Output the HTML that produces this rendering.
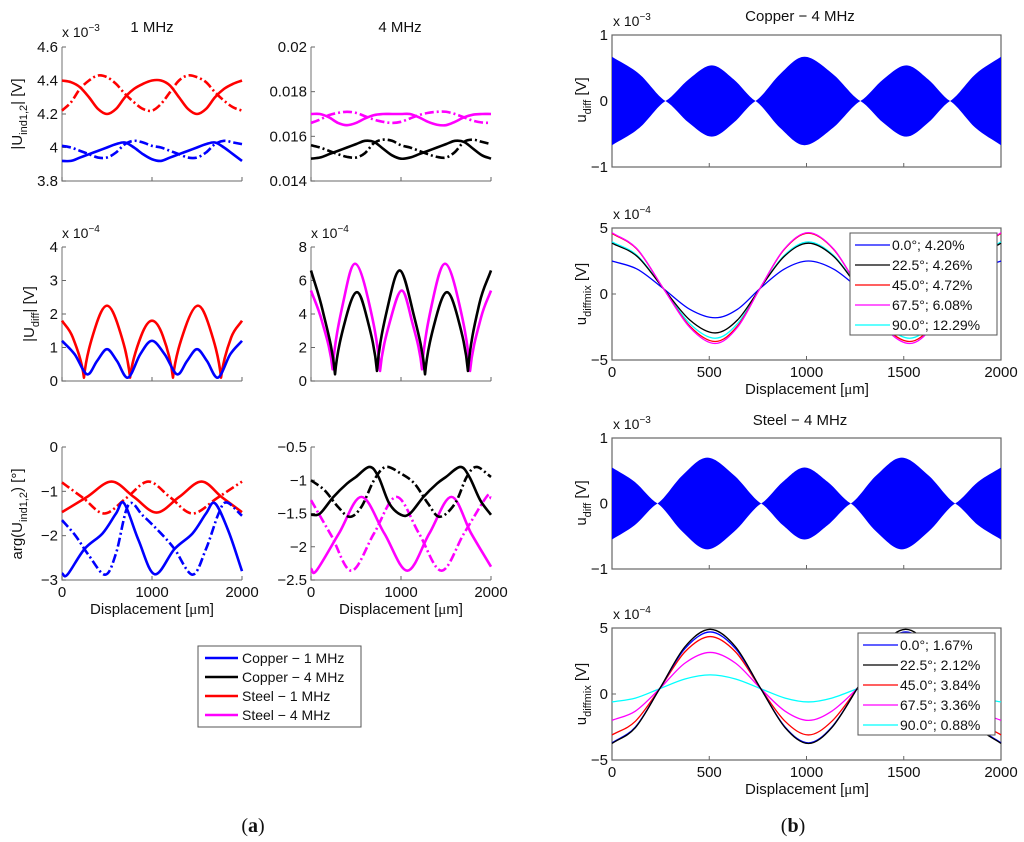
<!DOCTYPE html>
<html><head><meta charset="utf-8"><style>
body{margin:0;background:#fff;}
svg{display:block;font-family:"Liberation Sans",sans-serif;}
</style></head><body>
<svg id="fig" width="1024" height="842" viewBox="0 0 1024 842" xmlns="http://www.w3.org/2000/svg"></svg>
<script>
// ===== data (x in µm, values in axis units) =====
const gridX = [0,100,200,300,400,500,600,700,800,900,1000,1100,1200,1300,1400,1500,1600,1700,1800,1900,2000];
const a1RedSolid = [4.40,4.39,4.36,4.30,4.23,4.20,4.23,4.30,4.35,4.38,4.40,4.40,4.37,4.30,4.23,4.20,4.23,4.30,4.35,4.38,4.40];
const a1RedDash  = [4.22,4.27,4.35,4.40,4.43,4.42,4.38,4.32,4.27,4.23,4.22,4.26,4.33,4.40,4.43,4.42,4.39,4.33,4.28,4.24,4.22];
const a1BlueSolid= [3.92,3.92,3.94,3.96,3.98,4.00,4.02,4.03,4.00,3.96,3.93,3.92,3.94,3.96,3.98,4.00,4.02,4.03,4.00,3.96,3.92];
const a1BlueDash = [4.01,4.00,3.98,3.96,3.94,3.94,3.97,4.02,4.04,4.03,4.01,4.00,3.98,3.96,3.94,3.94,3.97,4.02,4.04,4.03,4.02];
const a2MagSolid = [17.0,17.0,16.85,16.6,16.5,16.6,16.8,16.95,17.0,17.0,17.0,17.0,16.85,16.65,16.52,16.5,16.65,16.85,16.97,17.0,17.0];
const a2MagDash  = [16.6,16.75,16.95,17.05,17.1,17.05,16.9,16.75,16.65,16.6,16.65,16.8,16.95,17.05,17.1,17.1,17.0,16.85,16.7,16.62,16.6];
const a2BlkSolid = [15.0,15.05,15.2,15.35,15.5,15.65,15.8,15.75,15.45,15.15,15.0,15.05,15.2,15.35,15.5,15.65,15.8,15.75,15.45,15.15,15.0];
const a2BlkDash  = [15.6,15.5,15.35,15.2,15.08,15.05,15.25,15.7,15.85,15.8,15.6,15.5,15.35,15.2,15.08,15.05,15.3,15.75,15.85,15.75,15.65];
const a3RedX = [0,120,244,370,500,630,756,880,1000,1120,1233,1370,1511,1640,1767,1880,2000];
const a3Red  = [1.8,1.3,0.1,1.6,2.25,1.6,0.1,1.35,1.8,1.35,0.1,1.6,2.25,1.6,0.1,1.3,1.8];
const a3BlueX= [0,140,278,390,500,610,733,870,1000,1140,1278,1390,1500,1610,1733,1870,2000];
const a3Blue = [1.2,0.8,0.2,0.6,0.95,0.6,0.1,0.8,1.2,0.8,0.2,0.6,0.95,0.6,0.1,0.8,1.2];
const a4BlkX = [0,130,267,390,511,620,733,860,989,1130,1267,1390,1511,1630,1744,1870,2000];
const a4Blk  = [6.6,4.2,0.4,3.8,5.3,3.8,0.6,4.6,6.6,4.2,0.4,3.8,5.3,3.8,0.6,4.6,6.6];
const a4MagX = [0,120,240,370,489,630,767,890,1011,1120,1233,1360,1489,1630,1767,1890,2000];
const a4Mag  = [5.4,3.6,0.7,5.0,7.0,5.0,0.6,3.8,5.4,3.6,0.7,5.0,7.0,5.0,0.6,3.8,5.4];
const a5RedSX = [0,275,550,800,1050,1300,1550,1775,2000];
const a5RedS  = [-1.47,-1.13,-0.78,-1.13,-1.48,-1.13,-0.78,-1.13,-1.47];
const a5RedDX = [0,235,470,715,960,1205,1450,1725,2000];
const a5RedD  = [-0.8,-1.15,-1.5,-1.15,-0.78,-1.14,-1.5,-1.15,-0.78];
const a5BluSX = [0,60,250,450,600,690,850,1030,1250,1450,1600,1700,1850,2000];
const a5BluS  = [-2.85,-2.88,-2.3,-1.95,-1.5,-1.27,-2.1,-2.87,-2.3,-1.95,-1.5,-1.27,-1.9,-2.8];
const a5BluDX = [0,150,300,480,600,740,900,1100,1250,1450,1600,1740,1830,2000];
const a5BluD  = [-1.65,-2.0,-2.45,-2.88,-2.4,-1.3,-1.55,-1.95,-2.3,-2.88,-2.3,-1.5,-1.25,-1.55];
const a6MagSX = [0,60,310,560,815,1070,1315,1560,1780,2000];
const a6MagS  = [-2.33,-2.36,-1.8,-1.25,-1.8,-2.36,-1.8,-1.25,-1.8,-2.3];
const a6MagDX = [0,225,450,700,950,1200,1450,1700,1950,2000];
const a6MagD  = [-1.3,-1.83,-2.36,-1.8,-1.25,-1.8,-2.36,-1.8,-1.25,-1.27];
const a6BlkSX = [0,100,250,400,500,650,750,870,1000,1100,1250,1400,1500,1660,1760,1880,2000];
const a6BlkS  = [-1.52,-1.5,-1.25,-1.05,-0.95,-0.8,-0.95,-1.35,-1.52,-1.5,-1.25,-1.05,-0.95,-0.8,-0.95,-1.3,-1.52];
const a6BlkDX = [0,150,300,430,560,700,830,1000,1150,1300,1430,1600,1730,1840,2000];
const a6BlkD  = [-1.0,-1.15,-1.4,-1.55,-1.4,-1.0,-0.8,-0.9,-1.05,-1.35,-1.55,-1.35,-0.95,-0.8,-0.95];
const b1EnvX = [0,140,275,395,513,625,738,865,990,1135,1277,1395,1513,1625,1738,1870,2000];
const b1Env  = [0.67,0.41,0,0.33,0.54,0.33,0,0.41,0.67,0.41,0,0.33,0.54,0.33,0,0.41,0.67];
const b3EnvX = [0,117,234,362,490,628,767,878,990,1109,1228,1359,1490,1627,1764,1882,2000];
const b3Env  = [0.55,0.33,0,0.43,0.70,0.43,0,0.33,0.55,0.33,0,0.43,0.70,0.43,0,0.33,0.55];
const b2X = [0,130,265,400,530,645,760,885,1010,1140,1270,1400,1530,1645,1765,1890,2000];
const b2Blue = [2.5,1.88,0.4,-1.16,-1.8,-1.16,0.4,1.88,2.5,1.88,0.4,-1.16,-1.8,-1.16,0.4,1.88,2.5];
const b2Blk  = [3.85,2.84,0.4,-1.97,-2.95,-1.97,0.4,2.84,3.85,2.84,0.4,-1.97,-2.95,-1.97,0.4,2.84,3.85];
const b2Red  = [4.6,3.37,0.4,-2.43,-3.6,-2.43,0.4,3.37,4.6,3.37,0.4,-2.43,-3.6,-2.43,0.4,3.37,4.6];
const b2Mag  = [4.65,3.40,0.4,-2.53,-3.75,-2.53,0.4,3.40,4.65,3.40,0.4,-2.53,-3.75,-2.53,0.4,3.40,4.65];
const b2Cyan = [3.95,2.91,0.4,-2.25,-3.35,-2.25,0.4,2.91,3.95,2.91,0.4,-2.25,-3.35,-2.25,0.4,2.91,3.95];
const b2Labels = ["0.0°; 4.20%","22.5°; 4.26%","45.0°; 4.72%","67.5°; 6.08%","90.0°; 12.29%"];
const b4X = [0,120,245,375,505,635,765,890,1010,1130,1260,1385,1510,1635,1765,1890,2000];
const b4Blue = [-3.7,-2.5,0.4,3.44,4.7,3.44,0.4,-2.5,-3.7,-2.5,0.4,3.44,4.7,3.44,0.4,-2.5,-3.7];
const b4Blk  = [-3.75,-2.55,0.4,3.58,4.9,3.58,0.4,-2.55,-3.75,-2.55,0.4,3.58,4.9,3.58,0.4,-2.55,-3.75];
const b4Red  = [-3.1,-2.07,0.4,3.19,4.35,3.19,0.4,-2.07,-3.1,-2.07,0.4,3.19,4.35,3.19,0.4,-2.07,-3.1];
const b4Mag  = [-2.0,-1.30,0.4,2.34,3.15,2.34,0.4,-1.30,-2.0,-1.30,0.4,2.34,3.15,2.34,0.4,-1.30,-2.0];
const b4Cyan = [-0.6,-0.31,0.4,1.14,1.45,1.14,0.4,-0.31,-0.6,-0.31,0.4,1.14,1.45,1.14,0.4,-0.31,-0.6];
const b4Labels = ["0.0°; 1.67%","22.5°; 2.12%","45.0°; 3.84%","67.5°; 3.36%","90.0°; 0.88%"];

const NS="http://www.w3.org/2000/svg";
const svg=document.getElementById('fig');
function el(tag,attrs,parent,text){const e=document.createElementNS(NS,tag);for(const k in attrs)e.setAttribute(k,attrs[k]);if(text!==undefined)e.textContent=text;(parent||svg).appendChild(e);return e;}

function axes(o){
  const sx=v=>o.x0+(v-o.xmin)/(o.xmax-o.xmin)*(o.x1-o.x0);
  const sy=v=>o.y1-(v-o.ymin)/(o.ymax-o.ymin)*(o.y1-o.y0);
  return {sx,sy,o};
}
function pathD(xs,ys,ax,sharp,kx,ky){
  kx=kx||0.6;ky=ky||1.3;
  const P=xs.map((x,i)=>[ax.sx(x),ax.sy(ys[i])]);
  const n=P.length;
  const tin=[],tout=[];
  for(let i=0;i<n;i++){
    let t;
    if(i===0)t=[P[1][0]-P[0][0],P[1][1]-P[0][1]];
    else if(i===n-1)t=[P[n-1][0]-P[n-2][0],P[n-1][1]-P[n-2][1]];
    else t=[(P[i+1][0]-P[i-1][0])/2,(P[i+1][1]-P[i-1][1])/2];
    tin[i]=t;tout[i]=t;
    if(sharp&&i>0&&i<n-1&&ys[i]<ys[i-1]&&ys[i]<ys[i+1]){
      tin[i]=[(P[i][0]-P[i-1][0])*kx,(P[i][1]-P[i-1][1])*ky];
      tout[i]=[(P[i+1][0]-P[i][0])*kx,(P[i+1][1]-P[i][1])*ky];
    }
  }
  let d='M'+P[0][0].toFixed(2)+','+P[0][1].toFixed(2);
  for(let i=0;i<n-1;i++){
    const c1=[P[i][0]+tout[i][0]/3,P[i][1]+tout[i][1]/3];
    const c2=[P[i+1][0]-tin[i+1][0]/3,P[i+1][1]-tin[i+1][1]/3];
    d+=' C'+c1[0].toFixed(2)+','+c1[1].toFixed(2)+' '+c2[0].toFixed(2)+','+c2[1].toFixed(2)+' '+P[i+1][0].toFixed(2)+','+P[i+1][1].toFixed(2);
  }
  return d;
}
function series(ax,xs,ys,color,w,dash,sharp,name){
  const p=el('path',{d:pathD(xs,ys,ax,sharp),fill:'none',stroke:color,'stroke-width':w,'stroke-dasharray':dash?'9,3,2,3':'none','stroke-linejoin':'round'});
  
  
}
function frame(ax,box,yticks,ytl,xticks,xtl,name,fs){
  const o=ax.o;const g=el('g',{});
  
  
  if(box){el('rect',{x:o.x0,y:o.y0,width:o.x1-o.x0,height:o.y1-o.y0,fill:'none',stroke:'#666','stroke-width':1.2},g);}
  else{el('path',{d:`M${o.x0},${o.y0}V${o.y1}H${o.x1}`,fill:'none',stroke:'#888','stroke-width':1.2},g);}
  yticks.forEach((v,i)=>{const y=ax.sy(v);
    el('line',{x1:o.x0,x2:o.x0+4,y1:y,y2:y,stroke:'#666'},g);
    const t=el('text',{x:o.x0-4,y:y+5,'text-anchor':'end','font-size':fs||15,fill:'#111'},g,ytl[i]);
    });
  (xticks||[]).forEach((v,i)=>{const x=ax.sx(v);
    el('line',{x1:x,x2:x,y1:o.y1,y2:o.y1-4,stroke:'#666'},g);
    if(xtl){const t=el('text',{x:x,y:o.y1+17,'text-anchor':'middle','font-size':fs||15,fill:'#111'},g,xtl[i]);
    }});
}
function txt(x,y,s,size,name,anchor,rot){
  const t=el('text',{x:x,y:y,'font-size':size,'text-anchor':anchor||'middle',fill:'#111'});
  if(rot)t.setAttribute('transform',`rotate(-90 ${x} ${y})`);
  t.innerHTML=s;
  
  return t;
}
function expLabel(x,y,e,name){txt(x,y,`x 10<tspan dy="-6" font-size="10">−${e}</tspan>`,14,name,'start');}
const LW=2.6;
const B='#0000ff',R='#ff0000',K='#000',M='#ff00ff',C='#00ffff';

// ---- A1
let ax=axes({x0:62,x1:242,y0:47,y1:181,xmin:0,xmax:2000,ymin:3.8,ymax:4.6});
frame(ax,false,[3.8,4,4.2,4.4,4.6],['3.8','4','4.2','4.4','4.6'],[0,1000,2000],null,'plot-a1-axes');
series(ax,gridX,a1RedSolid,R,LW,false,false,'steel-1mhz-solid');
series(ax,gridX,a1RedDash,R,LW,true,false,'steel-1mhz-dashdot');
series(ax,gridX,a1BlueSolid,B,LW,false,false,'copper-1mhz-solid');
series(ax,gridX,a1BlueDash,B,LW,true,false,'copper-1mhz-dashdot');
expLabel(62,37,3,'exponent-a1');
txt(152,32,'1 MHz',15,'title-1mhz');
txt(22,114,'|U<tspan dy="5" font-size="11">ind1,2</tspan><tspan dy="-5">| [V]</tspan>',15,'y-axis-title-a1','middle',true);
// ---- A2
ax=axes({x0:311,x1:491,y0:47,y1:181,xmin:0,xmax:2000,ymin:14,ymax:20});
frame(ax,false,[14,16,18,20],['0.014','0.016','0.018','0.02'],[0,1000,2000],null,'plot-a2-axes');
series(ax,gridX,a2MagSolid,M,LW,false,false,'steel-4mhz-solid');
series(ax,gridX,a2MagDash,M,LW,true,false,'steel-4mhz-dashdot');
series(ax,gridX,a2BlkSolid,K,LW,false,false,'copper-4mhz-solid');
series(ax,gridX,a2BlkDash,K,LW,true,false,'copper-4mhz-dashdot');
txt(400,32,'4 MHz',15,'title-4mhz');
// ---- A3
ax=axes({x0:62,x1:242,y0:247,y1:381,xmin:0,xmax:2000,ymin:0,ymax:4});
frame(ax,false,[0,1,2,3,4],['0','1','2','3','4'],[0,1000,2000],null,'plot-a3-axes');
series(ax,a3RedX,a3Red,R,LW,false,true,'steel-1mhz-udiff');
series(ax,a3BlueX,a3Blue,B,LW,false,false,'copper-1mhz-udiff');
expLabel(62,238,4,'exponent-a3');
txt(34,314,'|U<tspan dy="5" font-size="11">diff</tspan><tspan dy="-5">| [V]</tspan>',15,'y-axis-title-a3','middle',true);
// ---- A4
ax=axes({x0:311,x1:491,y0:247,y1:381,xmin:0,xmax:2000,ymin:0,ymax:8});
frame(ax,false,[0,2,4,6,8],['0','2','4','6','8'],[0,1000,2000],null,'plot-a4-axes');
series(ax,a4MagX,a4Mag,M,LW,false,true,'steel-4mhz-udiff');
series(ax,a4BlkX,a4Blk,K,LW,false,true,'copper-4mhz-udiff');
expLabel(311,238,4,'exponent-a4');
// ---- A5
ax=axes({x0:62,x1:242,y0:447,y1:580,xmin:0,xmax:2000,ymin:-3,ymax:0});
frame(ax,false,[-3,-2,-1,0],['−3','−2','−1','0'],[0,1000,2000],['0','1000','2000'],'plot-a5-axes');
series(ax,a5RedSX,a5RedS,R,LW,false,false,'steel-1mhz-arg-solid');
series(ax,a5RedDX,a5RedD,R,LW,true,false,'steel-1mhz-arg-dashdot');
series(ax,a5BluSX,a5BluS,B,LW,false,false,'copper-1mhz-arg-solid');
series(ax,a5BluDX,a5BluD,B,LW,true,false,'copper-1mhz-arg-dashdot');
txt(152,614,'Displacement [<tspan font-family="Liberation Serif">μ</tspan>m]',15,'x-axis-title-a5');
txt(22,514,'arg(U<tspan dy="5" font-size="11">ind1,2</tspan><tspan dy="-5">) [°]</tspan>',15,'y-axis-title-a5','middle',true);
// ---- A6
ax=axes({x0:311,x1:491,y0:447,y1:580,xmin:0,xmax:2000,ymin:-2.5,ymax:-0.5});
frame(ax,false,[-2.5,-2,-1.5,-1,-0.5],['−2.5','−2','−1.5','−1','−0.5'],[0,1000,2000],['0','1000','2000'],'plot-a6-axes');
series(ax,a6MagSX,a6MagS,M,LW,false,false,'steel-4mhz-arg-solid');
series(ax,a6MagDX,a6MagD,M,LW,true,false,'steel-4mhz-arg-dashdot');
series(ax,a6BlkSX,a6BlkS,K,LW,false,false,'copper-4mhz-arg-solid');
series(ax,a6BlkDX,a6BlkD,K,LW,true,false,'copper-4mhz-arg-dashdot');
txt(401,614,'Displacement [<tspan font-family="Liberation Serif">μ</tspan>m]',15,'x-axis-title-a6');
// legend A
(function(){
  const g=el('g',{});
  el('rect',{x:198,y:646,width:163,height:81,fill:'#fff',stroke:'#555','stroke-width':1},g);
  const names=['Copper − 1 MHz','Copper − 4 MHz','Steel − 1 MHz','Steel − 4 MHz'];const cols=[B,K,R,M];
  names.forEach((n,i)=>{const y=658+i*19;
    const l=el('line',{x1:205,x2:238,y1:y,y2:y,stroke:cols[i],'stroke-width':2.6},g);
    
    const t=el('text',{x:242,y:y+5,'font-size':14,fill:'#111'},g,n);
    });
})();
// ---- envelopes
function envelope(ax,xs,amps,name){
  const top=pathD(xs,amps,ax,true,1,0.6);
  const xr=xs.slice().reverse(),ar=amps.slice().reverse();
  const bot=pathD(xr,ar,{sx:ax.sx,sy:v=>ax.sy(-v)},true,1,0.6);
  const p=el('path',{d:top+' L'+bot.slice(1)+' Z',fill:'#0000ff',stroke:'none'});
  
}
ax=axes({x0:612,x1:1001,y0:35,y1:167,xmin:0,xmax:2000,ymin:-1,ymax:1});
frame(ax,true,[-1,0,1],['−1','0','1'],[0,500,1000,1500,2000],null,'plot-b1-axes');
envelope(ax,b1EnvX,b1Env,'copper-udiff-envelope');
expLabel(613,26,3,'exponent-b1');
txt(800,21,'Copper − 4 MHz',15,'title-copper-4mhz');
txt(586,100,'u<tspan dy="5" font-size="11">diff</tspan><tspan dy="-5"> [V]</tspan>',15,'y-axis-title-b1','middle',true);
// ---- B2
function legendB(x,y,w,h,labels,cols,name){
  const g=el('g',{});
  el('rect',{x:x,y:y,width:w,height:h,fill:'#fff',stroke:'#555','stroke-width':1},g);
  labels.forEach((n,i)=>{const yy=y+12+i*20;
    const l=el('line',{x1:x+5,x2:x+40,y1:yy,y2:yy,stroke:cols[i],'stroke-width':1.3},g);
    
    const t=el('text',{x:x+42,y:yy+5,'font-size':14,fill:'#111'},g,n);
    });
}
ax=axes({x0:612,x1:1001,y0:228,y1:360,xmin:0,xmax:2000,ymin:-5,ymax:5});
frame(ax,true,[-5,0,5],['−5','0','5'],[0,500,1000,1500,2000],['0','500','1000','1500','2000'],'plot-b2-axes');
series(ax,b2X,b2Blue,B,1.3,false,false,'copper-0deg');
series(ax,b2X,b2Cyan,C,1.3,false,false,'copper-90deg');
series(ax,b2X,b2Blk,K,1.3,false,false,'copper-22deg');
series(ax,b2X,b2Red,R,1.3,false,false,'copper-45deg');
series(ax,b2X,b2Mag,M,1.3,false,false,'copper-67deg');
legendB(850,233,147,102,b2Labels,[B,K,R,M,C],'legend-copper');
expLabel(613,219,4,'exponent-b2');
txt(807,394,'Displacement [<tspan font-family="Liberation Serif">μ</tspan>m]',15,'x-axis-title-b2');
txt(586,294,'u<tspan dy="5" font-size="11">diffmix</tspan><tspan dy="-5"> [V]</tspan>',15,'y-axis-title-b2','middle',true);
// ---- B3
ax=axes({x0:612,x1:1001,y0:438,y1:569,xmin:0,xmax:2000,ymin:-1,ymax:1});
frame(ax,true,[-1,0,1],['−1','0','1'],[0,500,1000,1500,2000],null,'plot-b3-axes');
envelope(ax,b3EnvX,b3Env,'steel-udiff-envelope');
expLabel(613,429,3,'exponent-b3');
txt(800,425,'Steel − 4 MHz',15,'title-steel-4mhz');
txt(586,503,'u<tspan dy="5" font-size="11">diff</tspan><tspan dy="-5"> [V]</tspan>',15,'y-axis-title-b3','middle',true);
// ---- B4
ax=axes({x0:612,x1:1001,y0:628,y1:760,xmin:0,xmax:2000,ymin:-5,ymax:5});
frame(ax,true,[-5,0,5],['−5','0','5'],[0,500,1000,1500,2000],['0','500','1000','1500','2000'],'plot-b4-axes');
series(ax,b4X,b4Cyan,C,1.3,false,false,'steel-90deg');
series(ax,b4X,b4Mag,M,1.3,false,false,'steel-67deg');
series(ax,b4X,b4Red,R,1.3,false,false,'steel-45deg');
series(ax,b4X,b4Blue,B,1.3,false,false,'steel-0deg');
series(ax,b4X,b4Blk,K,1.3,false,false,'steel-22deg');
legendB(858,633,137,102,b4Labels,[B,K,R,M,C],'legend-steel');
expLabel(613,619,4,'exponent-b4');
txt(807,794,'Displacement [<tspan font-family="Liberation Serif">μ</tspan>m]',15,'x-axis-title-b4');
txt(586,694,'u<tspan dy="5" font-size="11">diffmix</tspan><tspan dy="-5"> [V]</tspan>',15,'y-axis-title-b4','middle',true);
// panel labels
const la=txt(253,832,'(<tspan font-weight="bold">a</tspan>)',20,'panel-label-a');la.setAttribute('font-family','"Liberation Serif",serif');
const lb=txt(793,832,'(<tspan font-weight="bold">b</tspan>)',20,'panel-label-b');lb.setAttribute('font-family','"Liberation Serif",serif');
</script>
</body></html>
